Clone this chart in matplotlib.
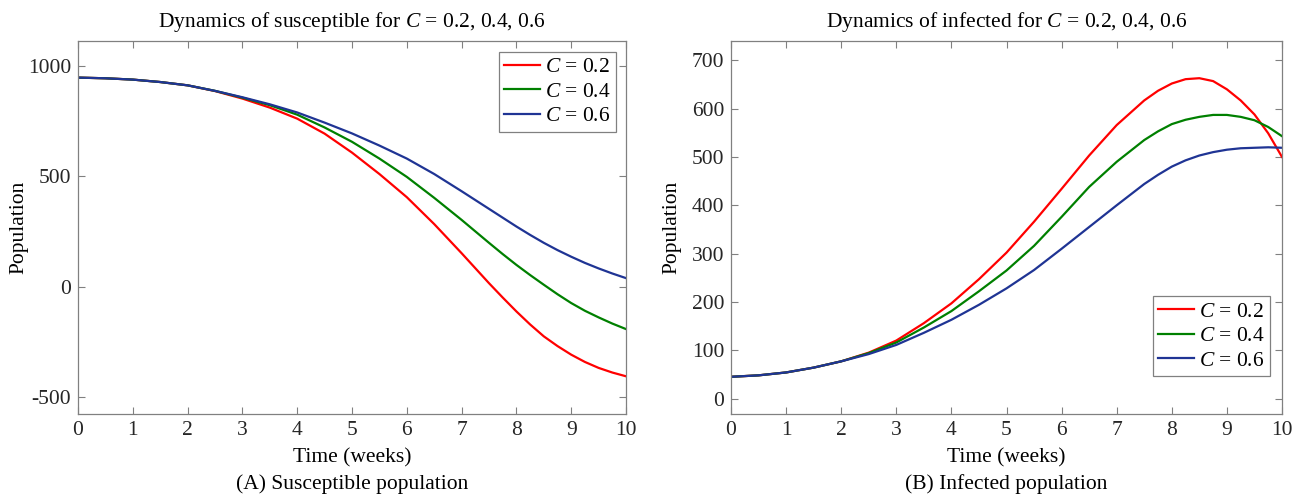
import matplotlib.pyplot as plt

plt.rcParams['font.family'] = 'Liberation Serif'
plt.rcParams['mathtext.fontset'] = 'custom'
plt.rcParams['mathtext.rm'] = 'Liberation Serif'
plt.rcParams['mathtext.it'] = 'Liberation Serif:italic'
plt.rcParams['axes.unicode_minus'] = False

# time (weeks)
t = [0, 0.5, 1, 1.5, 2, 2.5, 3, 3.5, 4, 4.5, 5, 5.5, 6, 6.5, 7, 7.5,
     7.75, 8, 8.25, 8.5, 8.75, 9, 9.25, 9.5, 9.75, 10]

# susceptible population
sus_02 = [947, 944, 938, 927, 912, 886, 852, 811, 761, 693, 607, 510, 405, 283, 151, 15,
          -50, -113, -172, -226, -270, -309, -342, -369, -390, -407]
sus_04 = [947, 944, 938, 927, 912, 887, 856, 822, 779, 721, 656, 580, 497, 402, 302, 198,
          147, 98, 52, 8, -35, -75, -110, -140, -168, -193]
sus_06 = [947, 944, 938, 927, 912, 887, 858, 826, 789, 743, 694, 639, 580, 510, 432, 352,
          312, 272, 234, 198, 165, 135, 107, 82, 59, 38]

# infected population
inf_02 = [45, 48, 54, 64, 77, 95, 120, 156, 197, 247, 302, 366, 434, 503, 566, 617,
          637, 652, 661, 663, 657, 640, 617, 588, 549, 500]
inf_04 = [45, 48, 54, 64, 77, 94, 116, 147, 181, 222, 265, 316, 376, 438, 490, 535,
          553, 568, 577, 583, 587, 587, 583, 576, 562, 543]
inf_06 = [45, 48, 54, 64, 77, 92, 111, 136, 163, 194, 228, 266, 310, 355, 400, 444,
          463, 480, 493, 503, 510, 515, 518, 519, 520, 519]

c_values = ['0.2', '0.4', '0.6']
colors = ['#ff0000', '#008000', '#1f3494']

fig = plt.figure(figsize=(13.04, 4.96), dpi=100)
W, H = 1304, 496
ax1 = fig.add_axes([78 / W, 1 - 414 / H, 548 / W, 373 / H])
ax2 = fig.add_axes([731 / W, 1 - 414 / H, 551 / W, 373 / H])

FS = 15.5


def style(ax):
    for s in ax.spines.values():
        s.set_color('#808080')
        s.set_linewidth(0.9)
    ax.tick_params(direction='in', top=True, right=True, length=5, width=0.8,
                   color='#808080', labelsize=FS, labelcolor='#262626', pad=5)
    ax.set_xlim(0, 10)
    ax.set_xticks(range(11))


for series, col, c in zip([sus_02, sus_04, sus_06], colors, c_values):
    ax1.plot(t, series, color=col, lw=1.6, label='$C$ = ' + c)
for series, col, c in zip([inf_02, inf_04, inf_06], colors, c_values):
    ax2.plot(t, series, color=col, lw=1.6, label='$C$ = ' + c)

style(ax1)
ax1.set_ylim(-578, 1113)
ax1.set_yticks([-500, 0, 500, 1000])
ax1.set_title('Dynamics of susceptible for $C$ = 0.2, 0.4, 0.6', fontsize=FS, pad=10)
ax1.set_xlabel('Time (weeks)', fontsize=FS, labelpad=6)
ax1.set_ylabel('Population', fontsize=FS)
ax1.yaxis.set_label_coords(-0.0912, 0.5)

style(ax2)
ax2.set_ylim(-32, 740)
ax2.set_yticks(range(0, 701, 100))
ax2.set_title('Dynamics of infected for $C$ = 0.2, 0.4, 0.6', fontsize=FS, pad=10)
ax2.set_xlabel('Time (weeks)', fontsize=FS, labelpad=6)
ax2.set_ylabel('Population', fontsize=FS)
ax2.yaxis.set_label_coords(-0.0907, 0.5)

leg_kw = dict(fontsize=FS, fancybox=False, framealpha=1, edgecolor='#808080',
              handlelength=1.65, handletextpad=0.25, labelspacing=0.2,
              borderpad=0.25, borderaxespad=0)
l1 = ax1.legend(loc='upper right', bbox_to_anchor=(1 - 10 / 548, 1 - 11 / 373), **leg_kw)
l2 = ax2.legend(loc='lower right', bbox_to_anchor=(1 - 12 / 551, 38 / 373), **leg_kw)
for l in (l1, l2):
    l.get_frame().set_linewidth(0.9)

fig.text((78 + 626) / 2 / W, 1 - 484 / H, '(A) Susceptible population',
         ha='center', va='center', fontsize=FS)
fig.text((731 + 1282) / 2 / W, 1 - 484 / H, '(B) Infected population',
         ha='center', va='center', fontsize=FS)

fig.savefig('out.png', dpi=100)
